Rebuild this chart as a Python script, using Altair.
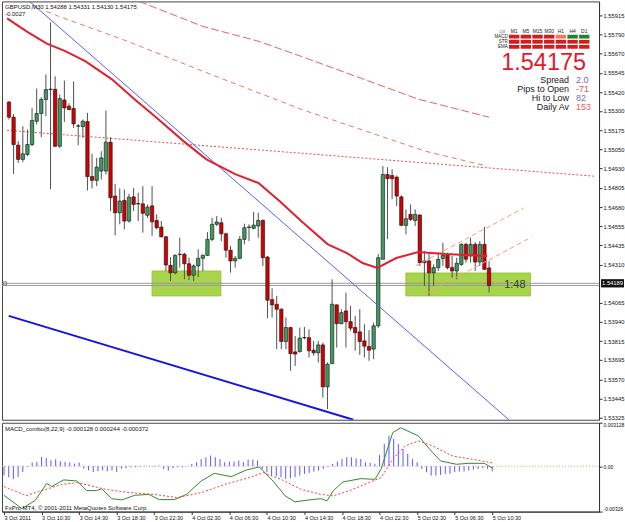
import altair as alt
import pandas as pd

# ---------------- data ----------------
symbol = "GBPUSD,M30"
opens = [1.55357, 1.55259, 1.55079, 1.54987, 1.55019, 1.55083, 1.55233, 1.55283, 1.55373, 1.55437,
         1.55439, 1.55072, 1.55370, 1.55330, 1.55315, 1.55203, 1.55199, 1.55231, 1.54877, 1.54852,
         1.54912, 1.54912, 1.55098, 1.54751, 1.54643, 1.54723, 1.54590, 1.54746, 1.54703, 1.54701,
         1.54627, 1.54688, 1.54594, 1.54551, 1.54489, 1.54305, 1.54257, 1.54374, 1.54376, 1.54315,
         1.54241, 1.54301, 1.54350, 1.54369, 1.54472, 1.54569, 1.54579, 1.54508, 1.54402, 1.54333,
         1.54350, 1.54472, 1.54549, 1.54543, 1.54558, 1.54594, 1.54358, 1.54084, 1.54054, 1.54022,
         1.53814, 1.53904, 1.53747, 1.53749, 1.53840, 1.53839, 1.53758, 1.53741, 1.53792, 1.53522,
         1.53672, 1.54050, 1.53929, 1.54011, 1.53942, 1.53904, 1.53876, 1.53818, 1.53782, 1.53765,
         1.53915, 1.54344, 1.54890, 1.54883, 1.54873, 1.54746, 1.54562, 1.54633, 1.54594, 1.54629,
         1.54333, 1.54333, 1.54257, 1.54290, 1.54348, 1.54376, 1.54290, 1.54268, 1.54311, 1.54440,
         1.54365, 1.54440, 1.54326, 1.54440, 1.54288]
highs = [1.55362, 1.55280, 1.55105, 1.55201, 1.55180, 1.55319, 1.55444, 1.55388, 1.55534, 1.55870,
         1.55523, 1.55405, 1.55495, 1.55349, 1.55490, 1.55216, 1.55244, 1.55287, 1.55023, 1.54997,
         1.55040, 1.55302, 1.55130, 1.54830, 1.54800, 1.54794, 1.54766, 1.54804, 1.54772, 1.54815,
         1.54697, 1.54815, 1.54633, 1.54590, 1.54494, 1.54358, 1.54376, 1.54483, 1.54386, 1.54354,
         1.54311, 1.54408, 1.54376, 1.54519, 1.54611, 1.54622, 1.54611, 1.54515, 1.54429, 1.54365,
         1.54494, 1.54573, 1.54569, 1.54650, 1.54643, 1.54601, 1.54365, 1.54157, 1.54108, 1.54028,
         1.53968, 1.53908, 1.53850, 1.53904, 1.53908, 1.53893, 1.53818, 1.53818, 1.53807, 1.53679,
         1.54215, 1.54054, 1.54022, 1.54129, 1.54043, 1.53979, 1.54022, 1.53926, 1.53887, 1.53936,
         1.54378, 1.54944, 1.54937, 1.54924, 1.54884, 1.54755, 1.54665, 1.54697, 1.54665, 1.54633,
         1.54397, 1.54386, 1.54311, 1.54386, 1.54450, 1.54386, 1.54365, 1.54354, 1.54447, 1.54450,
         1.54483, 1.54455, 1.54461, 1.54553, 1.54331]
lows = [1.55244, 1.54894, 1.54965, 1.54969, 1.55008, 1.55072, 1.55212, 1.55130, 1.55265, 1.54796,
        1.55066, 1.55061, 1.55229, 1.55304, 1.55190, 1.55079, 1.55126, 1.54787, 1.54800, 1.54815,
        1.54858, 1.54890, 1.54654, 1.54498, 1.54569, 1.54537, 1.54579, 1.54654, 1.54590, 1.54515,
        1.54611, 1.54494, 1.54537, 1.54483, 1.54268, 1.54204, 1.54247, 1.54290, 1.54215, 1.54209,
        1.54204, 1.54230, 1.54268, 1.54365, 1.54461, 1.54558, 1.54461, 1.54354, 1.54257, 1.54290,
        1.54344, 1.54440, 1.54461, 1.54537, 1.54483, 1.54301, 1.53964, 1.53968, 1.53765, 1.53765,
        1.53765, 1.53625, 1.53657, 1.53743, 1.53829, 1.53711, 1.53722, 1.53679, 1.53453, 1.53379,
        1.53668, 1.53775, 1.53926, 1.53775, 1.53882, 1.53754, 1.53728, 1.53711, 1.53690, 1.53700,
        1.53902, 1.54344, 1.54474, 1.54731, 1.54686, 1.54558, 1.54504, 1.54590, 1.54558, 1.54301,
        1.54172, 1.54108, 1.54172, 1.54268, 1.54301, 1.54279, 1.54225, 1.54215, 1.54301, 1.54322,
        1.54322, 1.54268, 1.54301, 1.54275, 1.54130]
closes = [1.55259, 1.55083, 1.54987, 1.55023, 1.55083, 1.55238, 1.55283, 1.55373, 1.55437, 1.55440,
          1.55072, 1.55379, 1.55319, 1.55308, 1.55216, 1.55201, 1.55233, 1.54877, 1.54852, 1.54937,
          1.54997, 1.55098, 1.54740, 1.54643, 1.54719, 1.54590, 1.54744, 1.54697, 1.54700, 1.54640,
          1.54680, 1.54585, 1.54547, 1.54489, 1.54307, 1.54257, 1.54369, 1.54377, 1.54315, 1.54241,
          1.54301, 1.54350, 1.54369, 1.54472, 1.54569, 1.54584, 1.54508, 1.54402, 1.54333, 1.54350,
          1.54472, 1.54547, 1.54552, 1.54564, 1.54594, 1.54354, 1.54080, 1.54050, 1.54022, 1.53814,
          1.53904, 1.53736, 1.53733, 1.53836, 1.53838, 1.53754, 1.53741, 1.53792, 1.53522, 1.53668,
          1.54054, 1.53929, 1.54000, 1.53942, 1.53900, 1.53870, 1.53814, 1.53784, 1.53758, 1.53915,
          1.54354, 1.54890, 1.54863, 1.54863, 1.54751, 1.54562, 1.54605, 1.54601, 1.54633, 1.54322,
          1.54322, 1.54257, 1.54290, 1.54344, 1.54369, 1.54290, 1.54268, 1.54318, 1.54440, 1.54344,
          1.54440, 1.54326, 1.54440, 1.54279, 1.54175]

# moving average (solid red) read at bar positions
ma_bar = [0.6, 4.8, 9.1, 13.3, 17.6, 23.3, 28.2, 33.1, 38.8, 43.7, 46.6, 50, 55.1, 59.6, 64.3, 70,
          74.2, 77.6, 80.8, 84.9, 89.7, 95.5, 104.6]
ma_val = [1.55896, 1.55812, 1.55735, 1.55683, 1.55619, 1.55503, 1.55375, 1.55252, 1.55105, 1.54989,
          1.54944, 1.54892, 1.54834, 1.54719, 1.54590, 1.54442, 1.54384, 1.54320, 1.54288, 1.54352,
          1.54391, 1.54378, 1.54365]
# slow averages (dashed red)
slowA_bar = [29.2, 43.0, 55.1, 64.3, 89.7, 105.0]
slowA_val = [1.56005, 1.55844, 1.55748, 1.55651, 1.55375, 1.55259]
slowB_bar = [9.1, 11.8, 26.7, 43.0, 64.3, 91.2, 104.6]
slowB_val = [1.55941, 1.55909, 1.55748, 1.55555, 1.55310, 1.55040, 1.54944]
# dotted red trendline
dotC_bar = [0.57, 64.3, 127.75]
dotC_val = [1.55175, 1.55027, 1.54879]
# blue trendlines
blue_thin_bar = [5.46, 109.3]
blue_thin_val = [1.56005, 1.53310]
blue_thick_bar = [0.94, 75.6]
blue_thick_val = [1.53979, 1.53310]
# orange channel
chan_up_bar = [89.1, 112.5]
chan_up_val = [1.54301, 1.54674]
chan_lo_bar = [91.2, 114.2]
chan_lo_val = [1.54120, 1.54487]
# green zones
zone_x0 = [32.0, 87.0]
zone_x1 = [46.9, 113.95]
zone_lo = [1.54108, 1.54108]
zone_hi = [1.54268, 1.54255]
bid_price = 1.54175
ask_price = 1.54189

# price axis labels
price_ticks = [1.55915, 1.55790, 1.55670, 1.55545, 1.55420, 1.55300, 1.55175, 1.55050, 1.54930,
               1.54805, 1.54680, 1.54555, 1.54435, 1.54310, 1.54065, 1.53940, 1.53815, 1.53695,
               1.53570, 1.53445, 1.53325]
# time axis
tick_bars = [1, 9, 17, 25, 33, 41, 49, 57, 65, 73, 81, 89, 97, 105]
tick_labels = ["3 Oct 2011", "3 Oct 10:30", "3 Oct 14:30", "3 Oct 18:30", "3 Oct 22:30",
               "4 Oct 02:30", "4 Oct 06:30", "4 Oct 10:30", "4 Oct 14:30", "4 Oct 18:30",
               "4 Oct 22:30", "5 Oct 02:30", "5 Oct 06:30", "5 Oct 10:30"]

# MACD pane
hist = [-0.00065, -0.00079, -0.00093, -0.00077, -0.00041, -0.00004, 0.00027, 0.00031, 0.00067, 0.00060,
        0.00043, 0.00050, 0.00036, 0.00031, 0.00027, 0.00019, 0.00027, -0.00017, -0.00029, -0.00041,
        -0.00036, -0.00029, -0.00036, -0.00029, -0.00041, -0.00017, -0.00014, -0.00007, -0.00007, -0.00005,
        0.00005, -0.00005, -0.00005, 0.00005, -0.00019, -0.00031, -0.00014, -0.00007, -0.00007, 0.00002,
        0.00017, 0.00029, 0.00052, 0.00065, 0.00077, 0.00065, 0.00052, 0.00029, 0.00034, 0.00034,
        0.00041, 0.00029, 0.00048, 0.00048, 0.00041, -0.00022, -0.00043, -0.00067, -0.00072, -0.00079,
        -0.00091, -0.00086, -0.00079, -0.00067, -0.00055, -0.00048, -0.00038, -0.00031, -0.00019, -0.00007,
        0.00017, 0.00034, 0.00052, 0.00065, 0.00065, 0.00057, 0.00052, 0.00029, 0.00024, 0.00017,
        0.00081, 0.00160, 0.00220, 0.00196, 0.00160, 0.00124, 0.00088, 0.00052, 0.00029, -0.00019,
        -0.00043, -0.00067, -0.00067, -0.00062, -0.00055, -0.00055, -0.00043, -0.00039, -0.00038, -0.00031,
        -0.00024, -0.00019, -0.00014, -0.00019, -0.000372]
macd_bar = [1, 4.8, 7.6, 10.1, 11.2, 13.7, 16.5, 18.6, 20.7, 21.8, 23.9, 26.1, 28.8, 31.8, 34.1, 37.3,
            39.9, 43, 45.8, 49.4, 52.6, 55.4, 58.3, 60.9, 63, 66, 68.5, 69.8, 71.1, 73.2, 77, 80, 81.3,
            83.8, 85.5, 89.3, 92.3, 94, 97.4, 99.9, 103.3, 105]
macd_val = [-0.00209, -0.00304, -0.00247, -0.00123, -0.00146, -0.00098, -0.00106, -0.00175, -0.00175,
            -0.00161, -0.00233, -0.00242, -0.00209, -0.00202, -0.00240, -0.00240, -0.00202, -0.00106,
            -0.00051, -0.00075, -0.00027, -0.00005, -0.00106, -0.00213, -0.00256, -0.00242, -0.00233,
            -0.00249, -0.00177, -0.00113, -0.00089, -0.00094, -0.00022, 0.00241, 0.00277, 0.00217,
            0.00098, 0.00038, 0.00014, 0.00021, 0.00021, -0.000128]
sig_bar = [1, 5.7, 9.1, 13.3, 16.7, 22.7, 27.8, 32.8, 37.9, 43, 48.1, 53.2, 56.2, 60, 64.3, 68.5, 71.1,
           74.5, 78.7, 81.3, 83.8, 86.4, 89.3, 92.3, 96.5, 100.8, 105]
sig_val = [-0.00146, -0.00211, -0.00175, -0.00130, -0.00118, -0.00166, -0.00190, -0.00202, -0.00225,
           -0.00190, -0.00130, -0.00082, -0.00046, -0.00094, -0.00166, -0.00202, -0.00213, -0.00177,
           -0.00118, -0.00082, 0.00050, 0.00146, 0.00182, 0.00146, 0.00074, 0.00050, 0.000244]
macd_ticks = [0.003128, 0.0, -0.00326]
macd_tick_labels = ["0.003128", "0.00", "-0.00326"]

# info panel
timeframes = ["M1", "M5", "M15", "M30", "H1", "H4", "D1"]
signal_rows = ["MACD", "STR", "EMA"]
signal_state = [["dn", "dn", "dn", "dn", "weak", "up", "up"],
                ["dn"] * 7,
                ["dn"] * 7]
info_labels = ["Spread", "Pips to Open", "Hi to Low", "Daily Av"]
info_values = ["2.0", "-71", "82", "153"]
info_colors = ["#6d6daf", "#e8505a", "#7474b8", "#e86464"]
timer_text = "1:48"
change_text = "-0.0027"

assert len(opens) == len(highs) == len(lows) == len(closes) == len(hist) == 105

# ---------------- layout / style ----------------
FONT = "Liberation Sans"
W, H_MAIN, H_MACD = 598, 419, 89
X_DOM = [0.57, 127.75]
Y_DOM = [1.53310, 1.56005]
M_DOM = [-0.00326, 0.003128]
BULL, BEAR = "#3f9a62", "#d40000"
PAD = {"left": 1, "top": 0, "right": 0, "bottom": 0}

xs = alt.Scale(domain=X_DOM, nice=False, zero=False)
ys = alt.Scale(domain=Y_DOM, nice=False, zero=False)
ms = alt.Scale(domain=M_DOM, nice=False, zero=False)

YAX = alt.Axis(orient="right", values=price_ticks, format=".5f", labelFont=FONT, labelFontSize=5.8,
               tickSize=3, labelPadding=1, grid=False, title=None, domainColor="#333",
               tickColor="#333", labelColor="#111")
expr_t = "".join(f"datum.value == {b} ? '{l}' : " for b, l in zip(tick_bars, tick_labels)) + "''"
XAX = alt.Axis(values=tick_bars, labelExpr=expr_t, labelAlign="left", labelFont=FONT, labelFontSize=5.5,
               tickSize=3, labelPadding=1, grid=False, title=None, labelOverlap=False, labelFlush=False,
               domainColor="#333", tickColor="#333", labelColor="#111")
expr_m = (f"datum.value > 0.001 ? '{macd_tick_labels[0]}' : "
          f"(datum.value < -0.001 ? '{macd_tick_labels[2]}' : '{macd_tick_labels[1]}')")
MAX = alt.Axis(orient="right", values=macd_ticks, labelExpr=expr_m, labelFont=FONT, labelFontSize=5,
               tickSize=3, labelPadding=1, grid=False, title=None, labelFlush=True,
               domainColor="#333", tickColor="#333", labelColor="#111")


def MX(f):
    return alt.X(f, type="quantitative", scale=xs, axis=None)


def MY(f):
    return alt.Y(f, type="quantitative", scale=ys, axis=YAX)


def line(bx, vals, color, width=1.0, dash=None):
    df = pd.DataFrame({"bar": bx, "p": vals})
    kw = dict(color=color, strokeWidth=width, clip=True)
    if dash:
        kw["strokeDash"] = dash
    return alt.Chart(df).mark_line(**kw).encode(x=MX("bar"), y=MY("p"))


one = pd.DataFrame({"k": [0]})

cd = pd.DataFrame({"bar": list(range(1, len(opens) + 1)), "open": opens, "high": highs,
                   "low": lows, "close": closes})
cd["dir"] = ["up" if c >= o else "dn" for o, c in zip(opens, closes)]

zones = pd.DataFrame({"x0": zone_x0, "x1": zone_x1, "lo": zone_lo, "hi": zone_hi})
zone_l = alt.Chart(zones).mark_rect(color="#a8d44c", stroke="#98c43c", strokeWidth=1).encode(
    x=MX("x0"), x2="x1", y=MY("lo"), y2="hi")

pl = pd.DataFrame({"p": [ask_price, bid_price]})
bidlines = alt.Chart(pl).mark_rule(color="#9a9a9a", strokeWidth=1).encode(y=MY("p"))

wicks = alt.Chart(cd).mark_rule(color="#505050", strokeWidth=1).encode(
    x=MX("bar"), y=MY("low"), y2="high")
bodies = alt.Chart(cd).mark_bar(width=3.4, stroke="#111", strokeWidth=0.6).encode(
    x=MX("bar"), y=MY("open"), y2="close",
    fill=alt.Fill("dir:N", scale=alt.Scale(domain=["up", "dn"], range=[BULL, BEAR]), legend=None))

dotC = line(dotC_bar, dotC_val, "#e84a4a", 1, [2, 2])
slowA = line(slowA_bar, slowA_val, "#e86060", 1, [8, 3])
slowB = line(slowB_bar, slowB_val, "#f07070", 1, [5, 4])
bthin = line(blue_thin_bar, blue_thin_val, "#5a5aff", 1)
bthick = line(blue_thick_bar, blue_thick_val, "#1414e6", 2)
chu = line(chan_up_bar, chan_up_val, "#f4a07a", 1, [5, 3])
chl = line(chan_lo_bar, chan_lo_val, "#f4a07a", 1, [5, 3])
ma = line(ma_bar, ma_val, "#e2202e", 2)

# texts in main pane
head_txt = f"{symbol}  {opens[-1]:.5f} {highs[-1]:.5f} {lows[-1]:.5f} {closes[-1]:.5f}"
head = alt.Chart(one).mark_text(text=head_txt, align="left", baseline="middle", font=FONT,
                                fontSize=6, color="#111").encode(x=alt.value(3), y=alt.value(6))
chg = alt.Chart(one).mark_text(text=change_text, align="left", baseline="middle", font=FONT,
                               fontSize=6, color="#111").encode(x=alt.value(3), y=alt.value(12.5))
timer = alt.Chart(pd.DataFrame({"p": [bid_price]})).mark_text(
    text=timer_text, align="left", baseline="middle", font=FONT, fontSize=11, color="#2c3a2c").encode(
    x=alt.value(503), y=MY("p"))
sq = alt.Chart(pd.DataFrame({"p": [ask_price]})).mark_point(
    shape="square", size=10, filled=False, color="#444", strokeWidth=0.8).encode(x=alt.value(3), y=MY("p"))
hl_box = alt.Chart(pd.DataFrame({"p": [ask_price]})).mark_point(
    shape="M-1,-0.36L1,-0.36L1,0.36L-1,0.36Z", size=529, filled=True, color="#111", opacity=1).encode(
    x=alt.value(611.5), y=MY("p"))
hl_txt = alt.Chart(pd.DataFrame({"p": [ask_price]})).mark_text(
    align="center", baseline="middle", font=FONT, fontSize=5.8, color="white").encode(
    x=alt.value(611.5), y=MY("p"), text=alt.Text("p:Q", format=".5f"))

# info panel (top right)
col_c = [513 + 11.7 * k for k in range(len(timeframes))]
row_c = [35.3 + 5.1 * r for r in range(len(signal_rows))]
state_col = {"dn": "#d81a1a", "weak": "#f47a5a", "up": "#138a2a"}
cells = pd.DataFrame([{"x0": col_c[c] - 5.2, "x1": col_c[c] + 5.2, "y0": row_c[r] - 1.9,
                       "y1": row_c[r] + 1.9, "c": state_col[signal_state[r][c]]}
                      for r in range(len(signal_rows)) for c in range(len(timeframes))])
cell_l = alt.Chart(cells).mark_rect().encode(
    x=alt.X("x0:Q", scale=None, axis=None), x2="x1:Q",
    y=alt.Y("y0:Q", scale=None, axis=None), y2="y1:Q", fill=alt.Fill("c:N", scale=None))
tf_df = pd.DataFrame({"t": ["cja"] + timeframes, "x": [501] + col_c,
                      "c": ["#909090"] + ["#222"] * len(timeframes)})
tf_l = alt.Chart(tf_df).mark_text(baseline="middle", align="center", font=FONT, fontSize=5).encode(
    x=alt.X("x:Q", scale=None, axis=None), y=alt.value(30), text="t:N", color=alt.Color("c:N", scale=None))
rl_df = pd.DataFrame({"t": signal_rows, "y": row_c})
rl_l = alt.Chart(rl_df).mark_text(baseline="middle", align="right", font=FONT, fontSize=4.5,
                                  color="#222").encode(
    x=alt.value(506.5), y=alt.Y("y:Q", scale=None, axis=None), text="t:N")
big = alt.Chart(one).mark_text(text=f"{closes[-1]:.5f}", align="center", baseline="middle", font=FONT,
                               fontSize=23.5, color="#e31a2a").encode(x=alt.value(542.5), y=alt.value(61.8))
info_df = pd.DataFrame({"l": info_labels, "v": info_values, "c": info_colors,
                        "y": [78.5 + 9 * k for k in range(len(info_labels))]})
info_l = alt.Chart(info_df).mark_text(align="right", baseline="middle", font=FONT, fontSize=9,
                                      color="#222").encode(
    x=alt.value(568), y=alt.Y("y:Q", scale=None, axis=None), text="l:N")
info_v = alt.Chart(info_df).mark_text(align="left", baseline="middle", font=FONT, fontSize=9).encode(
    x=alt.value(575), y=alt.Y("y:Q", scale=None, axis=None), text="v:N", color=alt.Color("c:N", scale=None))

main = alt.layer(zone_l, dotC, slowA, slowB, bidlines, wicks, bodies, bthin, bthick, chu, chl, ma,
                 sq, hl_box, hl_txt, timer, head, chg, cell_l, tf_l, rl_l, big, info_l, info_v
                 ).properties(width=W, height=H_MAIN)

# ---------------- MACD pane ----------------
def XX(f):
    return alt.X(f, type="quantitative", scale=xs, axis=XAX)


def YY(f):
    return alt.Y(f, type="quantitative", scale=ms, axis=MAX)


hd = pd.DataFrame({"bar": list(range(1, len(hist) + 1)), "h": hist})
zero_l = alt.Chart(pd.DataFrame({"bar": X_DOM, "z": [0.0, 0.0]})).mark_line(
    color="#e8a08a", strokeDash=[1, 2], strokeWidth=1, clip=True).encode(x=XX("bar"), y=YY("z"))
hist_l = alt.Chart(hd).mark_rule(color="#5a5aff", strokeWidth=1).encode(
    x=XX("bar"), y=YY("h"), y2=alt.datum(0))
macd_l = alt.Chart(pd.DataFrame({"bar": macd_bar, "v": macd_val})).mark_line(
    color="#2f8a2f", strokeWidth=1).encode(x=XX("bar"), y=YY("v"))
sig_l = alt.Chart(pd.DataFrame({"bar": sig_bar, "v": sig_val})).mark_line(
    color="#ff3a3a", strokeWidth=1, strokeDash=[2, 2]).encode(x=XX("bar"), y=YY("v"))
mlabel = alt.Chart(one).mark_text(
    text=f"MACD_combo(8,22,9) {macd_val[-1]:.6f} {sig_val[-1]:.6f} {hist[-1]:.6f}",
    align="left", baseline="middle", font=FONT, fontSize=6, color="#111").encode(
    x=alt.value(3), y=alt.value(6))
copy = alt.Chart(one).mark_text(
    text="FxPro MT4, \u00a9 2001-2011 MetaQuotes Software Corp.", align="left", baseline="middle",
    font=FONT, fontSize=6, color="#111").encode(x=alt.value(3), y=alt.value(85.5))

macd = alt.layer(zero_l, hist_l, macd_l, sig_l, mlabel, copy).properties(width=W, height=H_MACD)

chart = alt.vconcat(main, macd, spacing=1, padding=PAD, background="white").configure(
    background="white", padding=PAD).configure_view(stroke="#444", strokeWidth=1)

chart.save("out.html", embed_options={"renderer": "svg", "actions": False})
